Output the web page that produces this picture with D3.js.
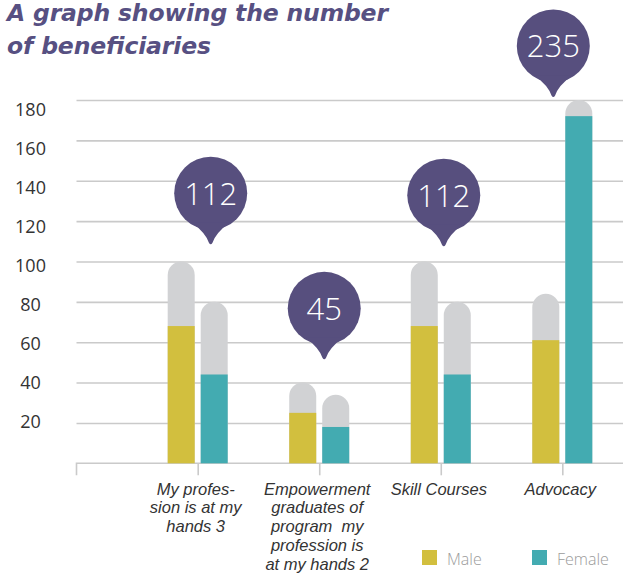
<!DOCTYPE html>
<html>
<head>
<meta charset="utf-8">
<script src="https://cdn.jsdelivr.net/npm/d3@7"></script>
<style>
  html, body { margin: 0; padding: 0; background: #ffffff; }
  svg { display: block; }
</style>
</head>
<body>
<div id="chart"></div>
<script>
// ---------- data ----------
const categories = [
  "My profession is at my hands 3",
  "Empowerment graduates of program my profession is at my hands 2",
  "Skill Courses",
  "Advocacy"
];
const categoryLabelLines = [
  ["My profes-", "sion is at my", "hands 3"],
  ["Empowerment", "graduates of", "program  my", "profession is", "at my hands 2"],
  ["Skill Courses"],
  ["Advocacy"]
];
const maleValues   = [68, 25, 68, 61];
const femaleValues = [44, 18, 44, 172];
const maleTarget   = [100, 40, 100, 84];
const femaleTarget = [80, 34, 80, 180];
const totals       = [112, 45, 112, 235];
const yTicks       = [20, 40, 60, 80, 100, 120, 140, 160, 180];
const seriesNames  = ["Male", "Female"];

// ---------- layout (not data) ----------
const W = 623, H = 574;
const bubbleTipValue = [108, 51, 107, 181];
const bubbleDx = [13, 5, 3, -9];
const colors = {
  male: "#d2bf3e", female: "#43abb1", gray: "#d1d2d4",
  bubble: "#574f7e", title: "#575082", grid: "#cacaca", text: "#333333", legend: "#9b9b9b"
};

const svg = d3.select("#chart").append("svg").attr("width", W).attr("height", H);

const y = d3.scaleLinear().domain([0, 180]).range([463.3, 100]);
const yLabel = d3.scaleLinear().domain([0, 180]).range([460.7, 110]);
const x = d3.scalePoint().domain(categories).range([197.7, 562.3]);
const gridLeft = 76.5, gridRight = W;
const barW = 27, gap = 6;

// title
const title = svg.append("g")
  .attr("font-family", "'DejaVu Sans', sans-serif")
  .attr("font-weight", 700).attr("font-style", "italic")
  .attr("font-size", 23.5).attr("fill", colors.title);
title.append("text").attr("x", 7).attr("y", 20.5)
  .attr("textLength", 381).attr("lengthAdjust", "spacing")
  .text("A graph showing the number");
title.append("text").attr("x", 7).attr("y", 53.5)
  .attr("textLength", 204).attr("lengthAdjust", "spacing")
  .text("of beneficiaries");

// gridlines
const grid = svg.append("g").attr("transform", `translate(${gridLeft},0)`)
  .call(d3.axisRight(y).tickValues(yTicks).tickSize(gridRight - gridLeft).tickFormat(""));
grid.select(".domain").remove();
grid.selectAll(".tick line").attr("stroke", colors.grid).attr("stroke-width", 1.6);

// y labels
const yl = svg.append("g").attr("transform", "translate(30.5,0)")
  .call(d3.axisLeft(yLabel).tickValues(yTicks).tickSize(0).tickPadding(0));
yl.select(".domain").remove();
yl.selectAll("text")
  .attr("text-anchor", "middle").attr("x", 0)
  .attr("font-family", "'Open Sans', sans-serif").attr("font-size", 18)
  .attr("fill", colors.text);

// baseline axis
const xa = svg.append("g").attr("transform", `translate(0,${y(0)})`)
  .call(d3.axisBottom(x).tickSize(12).tickFormat(""));
xa.select(".domain").attr("d", `M${gridLeft},12V0H${gridRight}`)
  .attr("stroke", colors.grid).attr("stroke-width", 1.6).attr("fill", "none");
xa.selectAll(".tick line").attr("stroke", colors.grid).attr("stroke-width", 1.6);

// bars
function roundTop(x0, w, top, base) {
  const r = w / 2;
  return `M${x0},${base}V${top + r}A${r},${r} 0 0 1 ${x0 + w},${top + r}V${base}Z`;
}
const bars = svg.append("g");
categories.forEach((c, i) => {
  const cx = x(c);
  const mx = cx - gap / 2 - barW, fx = cx + gap / 2;
  bars.append("path").attr("d", roundTop(mx, barW, y(maleTarget[i]), y(0))).attr("fill", colors.gray);
  bars.append("path").attr("d", roundTop(fx, barW, y(femaleTarget[i]), y(0))).attr("fill", colors.gray);
  bars.append("rect").attr("x", mx).attr("width", barW)
    .attr("y", y(maleValues[i])).attr("height", y(0) - y(maleValues[i])).attr("fill", colors.male);
  bars.append("rect").attr("x", fx).attr("width", barW)
    .attr("y", y(femaleValues[i])).attr("height", y(0) - y(femaleValues[i])).attr("fill", colors.female);
});

// bubbles
const R = 36.5, tail = 52;
const bub = svg.append("g");
categories.forEach((c, i) => {
  const bx = x(c) + bubbleDx[i];
  const tip = y(bubbleTipValue[i]);
  const cy = tip - tail;
  bub.append("circle").attr("cx", bx).attr("cy", cy).attr("r", R).attr("fill", colors.bubble);
  const a = 19, ay = cy + Math.sqrt(R * R - a * a);
  bub.append("path")
    .attr("d", `M${bx - a},${ay - 2}Q${bx - 5},${cy + R + 3} ${bx - 1.8},${tip - 2.5}Q${bx},${tip + 0.5} ${bx + 1.8},${tip - 2.5}Q${bx + 5},${cy + R + 3} ${bx + a},${ay - 2}Z`)
    .attr("fill", colors.bubble);
  bub.append("text").attr("x", bx).attr("y", cy + 11.5)
    .attr("text-anchor", "middle")
    .attr("font-family", "'Open Sans', sans-serif").attr("font-weight", 300)
    .attr("font-size", 31).attr("fill", "#ffffff")
    .text(totals[i]);
});

// category labels
const cl = svg.append("g")
  .attr("font-family", "'Liberation Sans', Arial, sans-serif").attr("font-style", "italic")
  .attr("font-size", 16.5).attr("fill", colors.text).attr("text-anchor", "middle");
categories.forEach((c, i) => {
  const t = cl.append("text").attr("x", x(c) - 2).attr("y", 494.5);
  categoryLabelLines[i].forEach((ln, j) => {
    t.append("tspan").attr("x", x(c) - 2).attr("y", 494.5 + j * 18.8)
      .attr("xml:space", "preserve").text(ln);
  });
});

// legend
const legendX = [422, 532];
const legendColors = [colors.male, colors.female];
const lg = svg.append("g");
seriesNames.forEach((s, i) => {
  lg.append("rect").attr("x", legendX[i]).attr("y", 550).attr("width", 15).attr("height", 15)
    .attr("fill", legendColors[i]);
  lg.append("text").attr("x", legendX[i] + 25).attr("y", 564.5)
    .attr("font-family", "'Open Sans', sans-serif").attr("font-weight", 300)
    .attr("font-size", 16).attr("fill", colors.legend).text(s);
});
</script>
</body>
</html>
